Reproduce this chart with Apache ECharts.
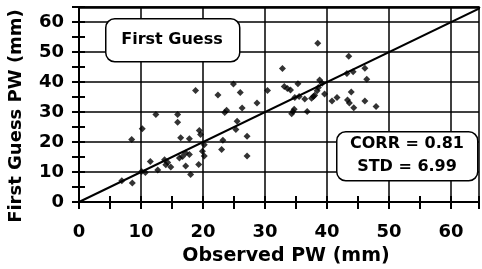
<!DOCTYPE html>
<html>
<head>
<meta charset="utf-8">
<script src="https://cdn.jsdelivr.net/npm/echarts@6/dist/echarts.min.js"></script>
<style type="text/css">
html, body{margin: 0; padding: 0; background: #fff}
#chart{width: 482px; height: 269px}
</style>
</head>
<body>
<div id="chart"></div>
<script type="text/javascript">
// observed PW (x) vs first guess PW (y)
var obsPW = [6.9, 8.6, 8.5, 10.1, 10.7, 10.2, 11.5, 12.7, 12.4, 13.8, 14.0, 14.3, 14.8, 15.9, 15.9, 16.2, 16.4, 16.7, 17.2, 17.8,
    17.8, 17.2, 18.0, 19.3, 18.8, 19.4, 19.6, 20.2, 19.9, 20.2, 22.4, 23.0, 23.2, 23.5, 23.8, 24.9, 25.5, 25.3, 26.0, 26.3,
    27.1, 27.1, 28.7, 30.4, 32.8, 33.1, 33.6, 34.1, 35.3, 35.5, 34.8, 36.4, 37.5, 37.8, 38.0, 34.7, 34.5, 34.3, 36.8, 38.5,
    38.8, 39.2, 38.6, 38.4, 39.6, 40.8, 41.6, 43.5, 43.2, 44.2, 46.1, 46.4, 43.9, 43.3, 43.6, 44.3, 46.1, 47.9];
var guessPW = [7.1, 6.3, 20.8, 10.2, 9.8, 24.4, 13.5, 10.7, 29.2, 14.1, 12.4, 13.2, 11.7, 29.2, 26.6, 14.7, 21.4, 15.2, 16.3, 15.8,
    21.1, 12.0, 9.2, 12.5, 37.2, 23.8, 22.5, 19.1, 16.9, 15.3, 35.7, 17.5, 20.6, 29.8, 30.6, 39.3, 26.9, 24.2, 36.5, 31.3,
    21.9, 15.3, 33.0, 37.2, 44.5, 38.5, 37.8, 37.3, 39.4, 35.2, 34.8, 34.3, 34.6, 35.2, 35.6, 30.9, 30.2, 29.4, 30.2, 52.9,
    40.7, 39.6, 38.2, 37.1, 36.0, 33.7, 34.8, 48.6, 42.8, 43.4, 44.6, 40.9, 36.7, 34.0, 33.0, 31.4, 33.7, 31.8];
var oneToOne = [0, 65];
var xMin = 0, xMax = 64.5;
var yMin = 0, yMax = 65;
var corrText = 'CORR = 0.81';
var stdText = 'STD = 6.99';

var pts = [];
for (var i = 0; i < obsPW.length; i++) {
    pts.push([obsPW[i], guessPW[i]]);
}
var diag = [[oneToOne[0], oneToOne[0]], [oneToOne[1], oneToOne[1]]];

var FONT = '"DejaVu Sans", Verdana, sans-serif';
var lbl = {color: '#000', fontFamily: FONT, fontWeight: 'bold', fontSize: 18};
var tenOnly = function (v) { return v % 10 === 0 && v <= 60 ? v : ''; };
var blk = {color: '#000', width: 2};

// axis 0: grid lines every 10 + inner ticks every 5
// axis 1: outer ticks every 5 + labels, axis 2 (x, top): frame line
var chart = echarts.init(document.getElementById('chart'));
var option = {
    animation: false,
    grid: {
        left: 79,
        right: 0,
        top: 7,
        bottom: 67
    },
    xAxis: [
        {
            type: 'value', min: xMin, max: xMax, interval: 10, position: 'bottom',
            axisLine: {show: false},
            axisTick: {inside: true, length: 6, lineStyle: blk},
            minorTick: {show: true, splitNumber: 2, length: 6, lineStyle: blk},
            axisLabel: {show: false},
            splitLine: {show: true, lineStyle: {color: '#000', width: 1.5}}
        },
        {
            type: 'value', min: xMin, max: xMax, interval: 5, position: 'bottom',
            axisLine: {lineStyle: blk},
            axisTick: {length: 7, lineStyle: blk},
            axisLabel: Object.assign({margin: 21, formatter: tenOnly}, lbl),
            splitLine: {show: false}
        },
        {
            type: 'value', min: xMin, max: xMax, position: 'top',
            axisLine: {lineStyle: {color: '#000', width: 2.5}},
            axisTick: {show: false},
            axisLabel: {show: false},
            splitLine: {show: false}
        }
    ],
    yAxis: [
        {
            type: 'value', min: yMin, max: yMax, interval: 10, position: 'left',
            axisLine: {show: false},
            axisTick: {inside: true, length: 6, lineStyle: blk},
            minorTick: {show: true, splitNumber: 2, length: 6, lineStyle: blk},
            axisLabel: {show: false},
            splitLine: {show: true, lineStyle: {color: '#000', width: 1.5}}
        },
        {
            type: 'value', min: yMin, max: yMax, interval: 5, position: 'left',
            axisLine: {lineStyle: blk},
            axisTick: {length: 7, lineStyle: blk},
            axisLabel: Object.assign({margin: 15, formatter: tenOnly}, lbl),
            splitLine: {show: false}
        }
    ],
    series: [
        {
            name: '1:1',
            type: 'line',
            xAxisIndex: 1,
            yAxisIndex: 1,
            data: diag,
            symbol: 'none',
            lineStyle: {color: '#000', width: 2},
            z: 3
        },
        {
            name: 'PW',
            type: 'scatter',
            data: pts,
            symbol: 'diamond',
            symbolSize: 7,
            itemStyle: {color: '#000'},
            z: 4
        }
    ],
    graphic: [
        {
            type: 'rect', left: 105, top: 18, z: 10,
            shape: {width: 134, height: 43, r: 9},
            style: {fill: '#fff', stroke: '#000', lineWidth: 1.5}
        },
        {
            type: 'text', x: 172, y: 40, z: 11,
            style: {text: 'First Guess', fill: '#000', font: 'bold 16px ' + FONT, textAlign: 'center', textVerticalAlign: 'middle'}
        },
        {
            type: 'rect', left: 336, top: 131, z: 10,
            shape: {width: 141, height: 49, r: 9},
            style: {fill: '#fff', stroke: '#000', lineWidth: 1.5}
        },
        {
            type: 'text', x: 407, y: 144, z: 11,
            style: {text: corrText, fill: '#000', font: 'bold 16px ' + FONT, textAlign: 'center', textVerticalAlign: 'middle'}
        },
        {
            type: 'text', x: 407, y: 167, z: 11,
            style: {text: stdText, fill: '#000', font: 'bold 16px ' + FONT, textAlign: 'center', textVerticalAlign: 'middle'}
        },
        {
            type: 'text', x: 286, y: 256, z: 11,
            style: {text: 'Observed PW (mm)', fill: '#000', font: 'bold 19px ' + FONT, textAlign: 'center', textVerticalAlign: 'middle'}
        },
        {
            type: 'text', x: 16, y: 116, rotation: Math.PI / 2, z: 11,
            style: {text: 'First Guess PW (mm)', fill: '#000', font: 'bold 18px ' + FONT, textAlign: 'center', textVerticalAlign: 'middle'}
        }
    ]
};
chart.setOption(option);
</script>
</body>
</html>
